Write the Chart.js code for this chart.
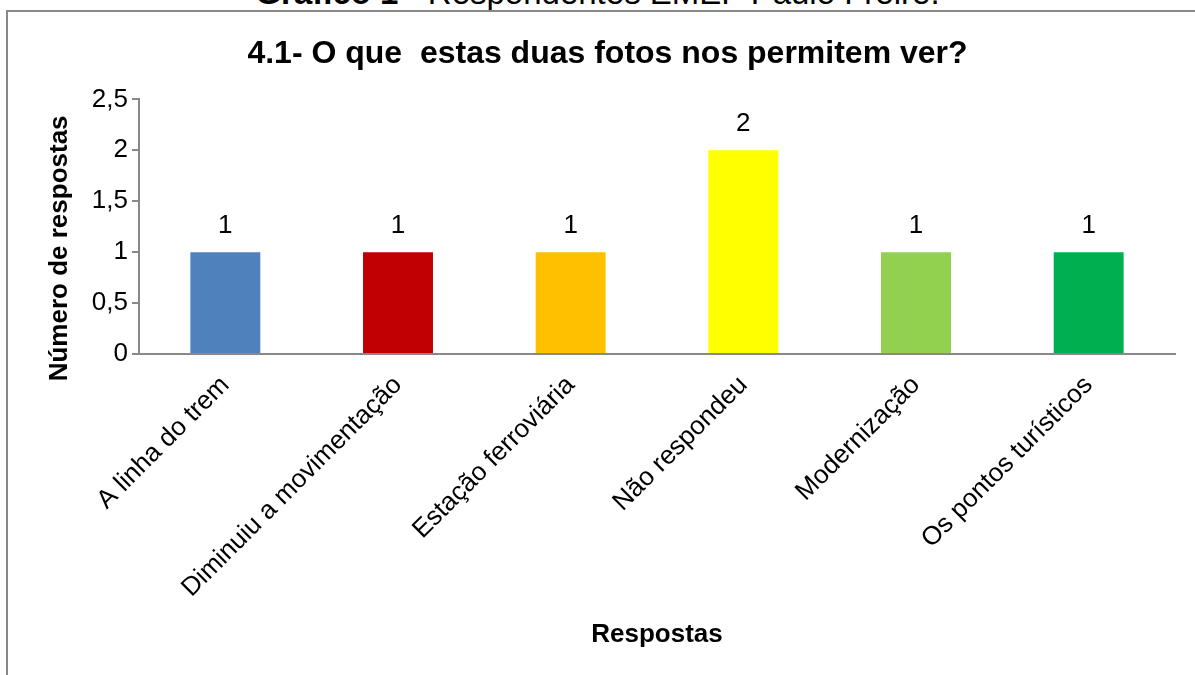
<!DOCTYPE html>
<html>
<head>
<meta charset="utf-8">
<script src="https://cdn.jsdelivr.net/npm/chart.js@4"></script>
<style>
    html, body { margin: 0; padding: 0; background: #fff; overflow: hidden; }
    body { width: 1195px; height: 675px; position: relative; font-family: 'Liberation Sans', Arial, sans-serif; }
    #header { position: absolute; left: 0; width: 1195px; top: -24px; text-align: center; font-size: 33px; line-height: 33px; color: #000; white-space: nowrap; }
    #box { position: absolute; left: 6px; top: 10px; width: 1210px; height: 700px; border: 2px solid #888; box-sizing: border-box; }
    #wrap { position: absolute; left: 0; top: 0; width: 1195px; height: 675px; }
</style>
</head>
<body>
<div id="header"><b>Gráfico 1</b> - Respondentes EMEF Paulo Freire.</div>
<div id="box"></div>
<div id="wrap"><canvas id="chart" width="1195" height="675"></canvas></div>
<script>
    // dados
    const categorias = ['A linha do trem', 'Diminuiu a movimentação', 'Estação ferroviária', 'Não respondeu', 'Modernização', 'Os pontos turísticos'];
    const respostas = [1, 1, 1, 2, 1, 1];
    const cores = ['#4F81BD', '#C00000', '#FFC000', '#FFFF00', '#92D050', '#00B050'];
    const yTicks = ['0', '0,5', '1', '1,5', '2', '2,5'];

    const fonte = "'Liberation Sans', Arial, sans-serif";

    // rótulos de valor acima das barras
    const rotulos = {
        id: 'rotulos',
        afterDatasetsDraw(chart) {
            const ctx = chart.ctx;
            const meta = chart.getDatasetMeta(0);
            ctx.save();
            ctx.font = '26px ' + fonte;
            ctx.fillStyle = '#000';
            ctx.textAlign = 'center';
            ctx.textBaseline = 'middle';
            meta.data.forEach(function (bar, i) {
                ctx.fillText(String(respostas[i]), bar.x, bar.y - 26);
            });
            ctx.restore();
        }
    };

    new Chart(document.getElementById('chart'), {
        type: 'bar',
        data: {
            labels: categorias,
            datasets: [{
                data: respostas,
                backgroundColor: cores,
                categoryPercentage: 1,
                barPercentage: 0.405
            }]
        },
        options: {
            responsive: false,
            animation: false,
            layout: { padding: { left: 40, right: 20, top: 0, bottom: 21 } },
            plugins: {
                legend: { display: false },
                tooltip: { enabled: false },
                title: {
                    display: true,
                    text: '4.1- O que  estas duas fotos nos permitem ver?',
                    color: '#000',
                    font: { family: fonte, size: 32, weight: 'bold' },
                    padding: { top: 35, bottom: 26 }
                }
            },
            scales: {
                x: {
                    grid: { display: false },
                    border: { display: true, color: '#888', width: 2 },
                    ticks: {
                        color: '#000',
                        font: { family: fonte, size: 26 },
                        minRotation: 45,
                        maxRotation: 45,
                        padding: 8
                    },
                    title: {
                        display: true,
                        text: 'Respostas',
                        color: '#000',
                        font: { family: fonte, size: 26, weight: 'bold' }
                    },
                    afterFit(scale) { scale.height = 300; }
                },
                y: {
                    min: 0,
                    max: 2.5,
                    grid: { display: true, drawOnChartArea: false, tickLength: 7, color: '#888', lineWidth: 2 },
                    border: { display: true, color: '#888', width: 2 },
                    ticks: {
                        stepSize: 0.5,
                        color: '#000',
                        font: { family: fonte, size: 26 },
                        padding: 4,
                        callback: function (v, i) { return yTicks[i]; }
                    },
                    title: {
                        display: true,
                        // espaços no fim empurram o texto para baixo, como no original
                        text: 'Número de respostas      ',
                        color: '#000',
                        font: { family: fonte, size: 26, weight: 'bold' }
                    },
                    afterFit(scale) { scale.width = 99; }
                }
            }
        },
        plugins: [rotulos]
    });
</script>
</body>
</html>
